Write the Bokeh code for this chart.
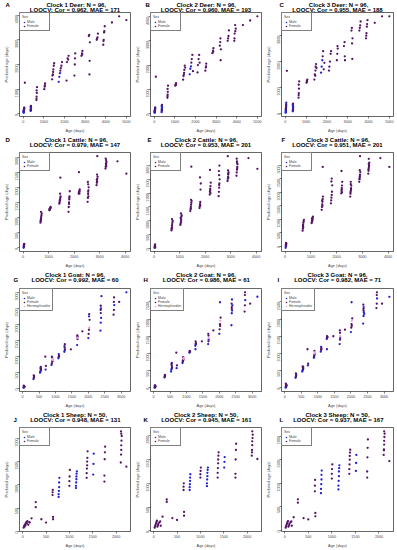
import math
from bokeh.plotting import figure
from bokeh.layouts import gridplot
from bokeh.models import Legend, LegendItem, FixedTicker, Range1d, Title
from bokeh.embed import file_html
from bokeh.resources import INLINE

# ---------------- data ----------------
panel_letters = ["A", "B", "C", "D", "E", "F", "G", "H", "I", "J", "K", "L"]
panel_species = ["Deer"] * 3 + ["Cattle"] * 3 + ["Goat"] * 3 + ["Sheep"] * 3
panel_clock = [1, 2, 3] * 4
panel_n = [96] * 9 + [50] * 3
panel_cor = ["0.962", "0.960", "0.955", "0.979", "0.953", "0.951",
             "0.992", "0.986", "0.982", "0.948", "0.945", "0.937"]
panel_mae = [171, 193, 188, 147, 201, 201, 60, 61, 71, 131, 161, 167]

deer_age = [20, 25, 30, 30, 35, 40, 40, 45, 50, 30, 35, 25, 40, 45,
            360, 365, 370, 370, 375, 380, 365, 370, 375, 380,
            80,
            640, 650, 660, 650, 670, 645,
            1020, 1040, 1060, 1050,
            1400, 1420, 1450, 1460, 1480, 1440, 1500,
            1720, 1750, 1780, 1800, 1820, 1850, 1880,
            2100, 2120, 2150, 2180, 2200,
            2480, 2500, 2520, 2510,
            2820, 2850, 2870, 2860,
            3180, 3200, 3220, 3210, 3230,
            3560, 3600, 3620, 3580,
            3880, 3900, 3920, 3950, 3890, 3930,
            4300, 4650, 5000]
deer_sex = list("MMMMMMMMMMMFFF" + "MMMMMMMMFF" + "F" + "FFFFFF" + "FFFF" + "FFFFFFF"
                + "MMMFFFF" + "FFFFF" + "FFFF" + "FFFF" + "FFFFF" + "FFFF" + "FFFFFF" + "FFF")
deer_c1 = [50, 80, 100, 120, 150, 180, 200, 220, 250, 60, 90, 130, 170, 240,
           120, 150, 180, 200, 230, 260, 280, 300, 320, 160,
           1260,
           560, 700, 850, 950, 1080, 620,
           1000, 1100, 1230, 1150,
           1400, 1550, 1700, 1800, 1950, 1600, 2050,
           1300, 1500, 1650, 1750, 1850, 1950, 2100,
           1350, 2100, 2250, 2200, 2350,
           1550, 2000, 2450, 2250,
           2350, 2450, 2550, 2400,
           3150, 3200, 2150, 1600, 2900,
           3000, 3100, 3250, 3050,
           2800, 3000, 3300, 3550, 2950, 3350,
           3700, 3950, 3800]
deer_c2 = [40, 70, 90, 110, 140, 160, 190, 210, 260, 50, 80, 120, 180, 230,
           60, 110, 150, 190, 220, 250, 290, 330, 360, 140,
           1520,
           650, 780, 900, 1020, 1150, 720,
           1150, 1200, 1260, 1180,
           1400, 1550, 1680, 1800, 1980, 1620, 1900,
           1620, 1850, 1950, 2100, 2250, 2420, 1750,
           1700, 2000, 2250, 2420, 2100,
           1770, 1900, 2060, 1950,
           2490, 2600, 2700, 2550,
           2800, 2950, 2200, 3100, 2650,
           3000, 3200, 3430, 3100,
           3000, 3300, 3650, 3500, 3100, 3400,
           3650, 3840, 4010]
deer_c3 = [20, 60, 100, 140, 180, 220, 260, 300, 410, 40, 80, 160, 240, 350,
           70, 110, 150, 190, 230, 260, 300, 340, 370, 130,
           1640,
           600, 780, 950, 1100, 1230, 700,
           1180, 1250, 1300, 1220,
           1300, 1500, 1650, 1800, 1900, 1450, 1750,
           1570, 1800, 2050, 2200, 2400, 1700, 1950,
           1650, 1800, 2000, 2300, 2400,
           2050, 2300, 2500, 2600,
           2600, 2750, 2050, 2200,
           3200, 3300, 2100, 2700, 2900,
           3200, 3400, 3550, 3300,
           2900, 3100, 3350, 3600, 3000, 3450,
           3500, 3750, 3750]

cattle_age = [20, 25, 30, 30, 35, 40, 40, 45,
              680, 690, 700, 700, 710, 720, 730, 700, 690,
              1030, 1040, 1050, 1060, 1070, 1080, 1050, 1060, 1040,
              1420, 1430, 1440, 1450, 1460, 1470, 1450, 1440, 1460,
              1780, 1790, 1800, 1810, 1820, 1830, 1800, 1810,
              2180, 2190, 2200, 2210, 2220, 2200, 2190, 2210,
              2530, 2540, 2550, 2560, 2570, 2550, 2540, 2560, 2550,
              2880, 2890, 2900, 2910, 2920, 2900, 2890, 2910, 2900,
              3230, 3240, 3250, 3260, 3270, 3250, 3240, 3260, 3250,
              3700, 4050]
cattle_sex = list("MMFFFFFF" + "F" * 72)
cattle_c1 = [0, 30, 60, 80, 100, 120, 50, 130,
             830, 880, 920, 970, 1020, 1080, 1140, 1190, 900,
             1240, 1260, 1280, 1300, 1320, 1350, 1270, 1310, 1290,
             1460, 1500, 1550, 1600, 1650, 1700, 1790, 1580, 2320,
             1190, 1350, 1500, 1600, 1700, 1870, 1450, 1650,
             1790, 1820, 1850, 1880, 1930, 1860, 2500, 1800,
             1520, 1650, 1780, 1900, 2000, 2100, 2180, 1700, 1850,
             2070, 2150, 2200, 2280, 2350, 2420, 2250, 3030, 2180,
             2620, 2680, 2750, 2800, 2850, 2900, 2950, 2700, 2780,
             2860, 2450]
cattle_c2 = [20, 50, 80, 100, 120, 60, 140, 30,
             650, 700, 760, 820, 880, 950, 1000, 1060, 720,
             850, 900, 950, 1050, 1150, 1200, 1270, 1000, 1100,
             1350, 1420, 1500, 1580, 1650, 1720, 1760, 1450, 2960,
             1460, 1520, 1600, 1680, 2130, 2350, 2570, 1550,
             1950, 2050, 2150, 2250, 2380, 2100, 2840, 2000,
             1890, 2050, 2200, 2350, 2500, 2650, 2800, 3000, 2300,
             2440, 2520, 2600, 2680, 2750, 2820, 3340, 2550, 2700,
             2630, 2750, 2850, 2950, 3050, 3150, 3250, 2900, 3100,
             3270, 2880]
cattle_c3 = [-60, 0, 40, 80, 120, 20, 60, 100,
             575, 650, 720, 800, 870, 930, 980, 700, 760,
             860, 900, 950, 1000, 1050, 1100, 920, 980, 1030,
             1350, 1450, 1550, 1650, 1750, 1840, 1500, 1700, 2940,
             1590, 1700, 1800, 1900, 2020, 2260, 2400, 2510,
             1960, 2050, 2150, 2250, 2390, 2100, 2790, 2000,
             1840, 1950, 2050, 2150, 2250, 2390, 2000, 2100, 2300,
             2390, 2480, 2560, 2650, 2750, 2820, 2500, 3340, 2600,
             2690, 2800, 2900, 3000, 3100, 3240, 2850, 2950, 3050,
             3270, 2940]

goat_age = [30, 35, 40, 45, 50, 40, 35, 45, 50, 55,
            330, 340, 345, 350, 340,
            530, 540, 550, 560, 550, 545, 555, 560,
            690, 700, 710,
            880, 890, 900, 910, 920, 900, 890, 910,
            1090, 1100, 1110, 1100, 1105,
            1270, 1280, 1290, 1280, 1275, 1285,
            1470,
            1660, 1670, 1680, 1670, 1665, 1675,
            1820,
            2000, 2010, 2020, 2030, 2040, 2020, 2025,
            2370, 2380, 2390, 2380, 2375, 2385, 2380, 2400,
            2770, 2780, 2790, 2780, 2785,
            2940, 3160]
goat_sex = list("MMMMMFFFFF" + "MFFMF" + "MMMFFFMF" + "FMF" + "MFFHHFMF" + "MFFMF"
                + "MMFFMF" + "F" + "MFHFFM" + "F" + "MFFHFMF" + "MMMFFMFM" + "FFMFF" + "FM")
goat_c1 = [20, 30, 40, 50, 60, 70, 80, 35, 45, 55,
           290, 320, 350, 380, 400,
           490, 520, 550, 580, 610, 640, 670, 600,
           990, 585, 700,
           730, 780, 830, 880, 920, 960, 990, 850,
           940, 980, 1020, 1070, 1000,
           1140, 1180, 1220, 1270, 1320, 1380,
           1220,
           1350, 1540, 1580, 1620, 1650, 1600,
           1780,
           1570, 1700, 1830, 1900, 2140, 2250, 2320,
           1800, 2050, 2200, 2350, 2450, 2500, 2580, 2880,
           2300, 2450, 2600, 2700, 2840,
           2700, 3000]
goat_c2 = [0, 10, 20, 30, 40, 50, 60, 70, 15, 35,
           300, 320, 340, 360, 370,
           470, 520, 560, 600, 650, 690, 720, 580,
           1020, 570, 650,
           720, 760, 800, 840, 870, 890, 780, 820,
           1020, 1040, 1060, 1070, 1050,
           1220, 1260, 1300, 1350, 1120, 1280,
           1350,
           1270, 1350, 1450, 1520, 1570, 1400,
           1670,
           1570, 1700, 1850, 1950, 2040, 2490, 1800,
           1820, 2170, 2250, 2350, 2450, 2570, 2300, 2400,
           2220, 2400, 2550, 2700, 2780,
           2450, 2650]
goat_c3 = [0, 20, 40, 60, 80, 100, 120, 30, 50, 70,
           290, 320, 360, 390, 420,
           470, 500, 530, 560, 590, 620, 540, 600,
           1120, 650, 700,
           870, 920, 960, 1000, 1040, 1070, 900, 980,
           1050, 1100, 1150, 1190, 1120,
           1420, 1450, 1480, 1500, 1120, 1460,
           1500,
           1270, 1400, 1500, 1600, 1670, 1450,
           1690,
           1620, 1750, 1850, 1950, 2020, 2490, 1800,
           1870, 2090, 2200, 2300, 2420, 2350, 2250, 2150,
           2320, 2450, 2600, 2700, 2780,
           2450, 2650]

sheep_age = [20, 30, 40, 50, 60, 70, 80, 90, 100, 120, 140, 150,
             190, 280, 280, 400, 500,
             640, 640, 645, 650, 650,
             770, 770, 775, 780, 780, 785,
             1000, 1000, 1005, 1010,
             1140, 1140, 1145, 1150, 1150, 1155, 1160,
             1370, 1370, 1375, 1380, 1380, 1385, 1390,
             1510, 1515, 1520,
             1750, 1750, 1755, 1760, 1765,
             2100, 2105, 2110, 2110, 2115, 2120, 2110, 2105,
             2220]
sheep_sex = list("F" * 12 + "FFFFF" + "FFFFF" + "MMMMMM" + "FFFF" + "MMMMMMM"
                 + "FFFFFFF" + "MMM" + "FFFFF" + "FFFFFFFF" + "F")
sheep_c1 = [80, 120, 100, 150, 130, 180, 200, 170, 220, 140, 200, 190,
            280, 520, 630, 260, 190,
            780, 840, 890, 260, 310,
            740, 800, 870, 950, 1050, 1150,
            980, 1080, 1180, 1320,
            930, 980, 1050, 1120, 1180, 1240, 1290,
            1150, 1250, 1350, 1420, 1500, 1580, 1720,
            1220, 1450, 1670,
            1070, 1200, 1550, 1700, 1820,
            1480, 1650, 1750, 1850, 1950, 2050, 2100, 2150,
            1390]
sheep_c2 = [70, 100, 130, 160, 190, 215, 90, 120, 150, 180, 200, 110,
            300, 610, 660, 270, 230,
            860, 930, 1000, 320, 400,
            860, 920, 980, 1050, 1120, 1190,
            1120, 1190, 1260, 1330,
            940, 1000, 1080, 1150, 1220, 1280, 1330,
            1120, 1220, 1320, 1420, 1500, 1580, 1650,
            1330, 1450, 1550,
            1120, 1200, 1500, 1700, 1830,
            1580, 1700, 1800, 1880, 1950, 2020, 2090, 1650,
            1510]
sheep_c3 = [60, 90, 120, 150, 180, 200, 80, 110, 140, 170, 190, 100,
            280, 590, 660, 260, 235,
            830, 950, 1070, 300, 370,
            790, 880, 980, 1080, 1180, 1270,
            1100, 1200, 1300, 1400,
            870, 950, 1050, 1150, 1250, 1320, 1380,
            1200, 1300, 1400, 1500, 1580, 1650, 1710,
            1260, 1430, 1600,
            1120, 1250, 1550, 1750, 1930,
            1600, 1720, 1820, 1900, 1980, 2050, 2100, 1700,
            1470]

deer_xticks = [0, 1000, 2000, 3000, 4000, 5000]
deer_yticks = [0, 1000, 2000, 3000, 4000]
cattle_xticks = [0, 1000, 2000, 3000, 4000]
cattle_yticks = [0, 500, 1000, 1500, 2000, 2500, 3000]
goat_xticks = [0, 500, 1000, 1500, 2000, 2500, 3000]
goat_yticks = [0, 500, 1000, 1500, 2000, 2500, 3000]
sheep_xticks = [0, 500, 1000, 1500, 2000]
sheep_yticks = [0, 500, 1000, 1500, 2000]

species_data = {
    "Deer": (deer_age, deer_sex, [deer_c1, deer_c2, deer_c3], deer_xticks, deer_yticks),
    "Cattle": (cattle_age, cattle_sex, [cattle_c1, cattle_c2, cattle_c3], cattle_xticks, cattle_yticks),
    "Goat": (goat_age, goat_sex, [goat_c1, goat_c2, goat_c3], goat_xticks, goat_yticks),
    "Sheep": (sheep_age, sheep_sex, [sheep_c1, sheep_c2, sheep_c3], sheep_xticks, sheep_yticks),
}

# ---------------- layout / style ----------------
FONT = "Liberation Sans"
SEX_NAMES = [("M", "Male"), ("F", "Female"), ("H", "Hermaphrodite")]
SEX_COLORS = {"M": "#2323D6", "F": "#561466", "H": "#F0A2DA"}
COL_W = [131, 131, 135]
COL_LEFT = [17, 17, 18]
COL_RIGHT = [1, 1, 4]
ROW_H = [135, 135, 140, 140]
ROW_TOP = [15, 20, 21, 20]
ROW_BOTTOM = [17, 16, 17, 16]
ROW_C1 = [4.5, 5.0, 5.0, 5.0]      # centre of title line 1 below the panel top
ROW_C2 = [10.5, 11.0, 11.0, 11.0]  # centre of title line 2
LETTER_ON_LINE = [1, 1, 2, 2]      # which title line carries the panel letter
LETTER_LEFT = [[-14, -5, -2], [-14, -3, 0], [-6, -7, -4], [-6, -7, -2]]
TITLE_PX = 6.0
TITLE_H = 6.7
NBSP = "\u00a0"

# Liberation Sans Bold advance widths (per 1000 em)
W_BOLD = {" ": 278, NBSP: 278, ":": 333, ",": 278, ".": 278, "=": 584,
          "A": 722, "B": 722, "C": 722, "D": 722, "E": 667, "F": 611, "G": 778, "H": 722,
          "I": 278, "J": 556, "K": 722, "L": 611, "M": 833, "N": 722, "O": 778, "S": 667,
          "V": 667, "a": 556, "c": 556, "e": 556, "h": 611, "k": 556, "l": 278, "o": 611,
          "p": 611, "r": 389, "t": 333}


def text_w(s):
    return sum(W_BOLD.get(ch, 556) for ch in s) * TITLE_PX / 1000.0


def padded(vals):
    lo, hi = min(vals), max(vals)
    d = (hi - lo) * 0.04
    return lo - d, hi + d


def make_panel(k):
    sp = panel_species[k]
    ages, sex, clocks, xt, yt = species_data[sp]
    preds = clocks[panel_clock[k] - 1]
    row, col = k // 3, k % 3
    top = ROW_TOP[row]
    x0, x1 = padded(ages)
    y0, y1 = padded(preds)
    p = figure(width=COL_W[col], height=ROW_H[row], output_backend="svg", toolbar_location=None,
               x_range=Range1d(x0, x1), y_range=Range1d(y0, y1),
               min_border_left=COL_LEFT[col], min_border_right=COL_RIGHT[col],
               min_border_top=0, min_border_bottom=ROW_BOTTOM[row])
    p.grid.visible = False
    p.outline_line_color = "black"
    p.outline_line_width = 0.6
    p.background_fill_color = "white"
    p.border_fill_color = "white"
    p.xaxis.ticker = FixedTicker(ticks=xt)
    p.yaxis.ticker = FixedTicker(ticks=yt)
    p.xaxis.axis_label = "Age (days)"
    p.yaxis.axis_label = "Predicted age (days)"
    for ax in (p.xaxis[0], p.yaxis[0]):
        ax.axis_line_color = None
        ax.major_tick_out = 2
        ax.major_tick_in = 0
        ax.major_tick_line_width = 0.5
        ax.minor_tick_line_color = None
        ax.major_label_text_font = FONT
        ax.major_label_text_font_size = "3.7px"
        ax.major_label_standoff = 1
        ax.axis_label_text_font = FONT
        ax.axis_label_text_font_size = "3.9px"
        ax.axis_label_text_font_style = "normal"
        ax.axis_label_standoff = 2
    p.yaxis.major_label_orientation = math.pi / 2

    items = []
    for code, name in SEX_NAMES:
        idx = [i for i, s in enumerate(sex) if s == code]
        if not idx:
            continue
        r = p.scatter(x=[ages[i] for i in idx], y=[preds[i] for i in idx],
                      size=2.3, color=SEX_COLORS[code], line_width=0)
        items.append(LegendItem(label=name, renderers=[r]))
    leg = Legend(items=items, location="top_left", title="Sex", margin=0, padding=2,
                 spacing=0, glyph_width=4, glyph_height=4, label_height=4, label_standoff=1,
                 label_text_font=FONT, label_text_font_size="3.5px",
                 title_text_font=FONT, title_text_font_size="3.5px",
                 title_text_font_style="normal", title_standoff=1,
                 border_line_color="black", border_line_width=0.5,
                 background_fill_alpha=1.0)
    p.add_layout(leg)

    # ---- titles: bands above the frame, text centred in each band ----
    fw = COL_W[col] - COL_LEFT[col] - COL_RIGHT[col]
    lines = ["Clock %d %s: N = %d," % (panel_clock[k], sp, panel_n[k]),
             "LOOCV: Cor = %s, MAE = %d" % (panel_cor[k], panel_mae[k])]
    li = LETTER_ON_LINE[row] - 1
    lx = LETTER_LEFT[row][col]
    start = fw / 2.0 - text_w(lines[li]) / 2.0
    gap = start - lx - text_w(panel_letters[k])
    n_sp = max(1, int(round(gap / text_w(NBSP))))
    merged = panel_letters[k] + NBSP * n_sp + lines[li]

    b1 = 2 * ROW_C1[row]
    b2 = 2 * (ROW_C2[row] - b1)
    bs = top - b1 - b2
    tstyle = dict(text_font=FONT, text_font_size="%.1fpx" % TITLE_PX, text_font_style="bold",
                  text_color="black", vertical_align="middle")

    def title_for(i, band):
        if i == li:
            return Title(text=merged, align="left", offset=lx, standoff=band - 2 - TITLE_H, **tstyle)
        return Title(text=lines[i], align="center", offset=0, standoff=band - 2 - TITLE_H, **tstyle)

    p.add_layout(Title(text=NBSP, align="center", standoff=bs - 2 - TITLE_H, **tstyle), "above")
    p.add_layout(title_for(1, b2), "above")
    p.add_layout(title_for(0, b1), "above")
    return p


figs = [make_panel(k) for k in range(12)]
grid = gridplot([figs[0:3], figs[3:6], figs[6:9], figs[9:12]], toolbar_location=None)

open("out.html", "w").write(file_html(grid, INLINE))
